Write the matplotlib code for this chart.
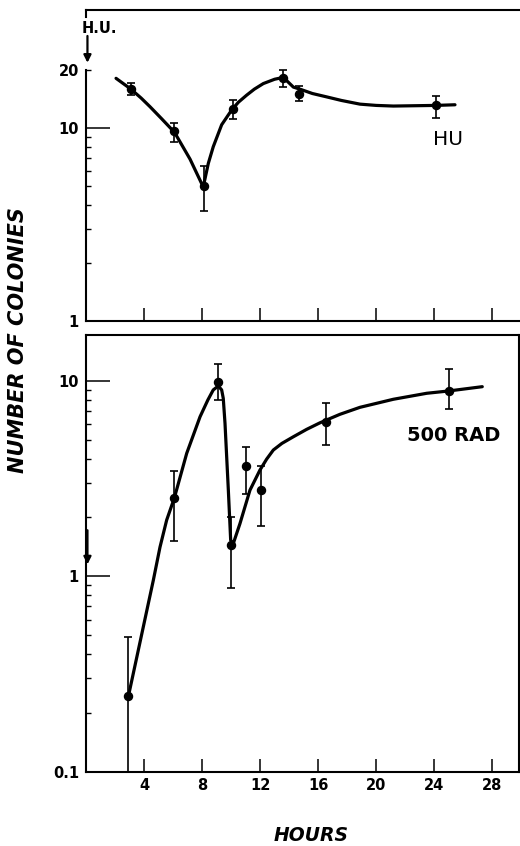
import matplotlib
matplotlib.use('Agg')
import matplotlib.pyplot as plt
from matplotlib.ticker import FixedLocator, FuncFormatter, NullFormatter

# ---------------- data ----------------
hu_hours = [3.1, 6.05, 8.1, 10.1, 13.55, 14.65, 24.1]
hu_vals = [15.9, 9.6, 5.0, 12.5, 18.1, 15.1, 13.2]
hu_low = [14.9, 8.5, 3.7, 11.1, 16.4, 13.8, 11.3]
hu_high = [17.2, 10.6, 6.35, 14.0, 20.0, 16.5, 14.7]

hu_curve_hours = [2.07, 3.1, 3.8, 4.41, 5.2, 6.1, 7.17, 8.08, 8.43, 8.77, 9.35,
                  10.04, 10.5, 11.07, 11.6, 12.22, 13.0, 13.6, 14.29, 14.75,
                  15.6, 16.59, 17.6, 18.88, 20.0, 21.18, 24.1, 25.43]
hu_curve_vals = [18.1, 15.9, 14.3, 12.9, 11.2, 9.5, 6.9, 4.95, 6.56, 8.0, 10.4,
                 12.4, 13.6, 14.8, 15.9, 17.0, 17.9, 18.3, 16.3, 15.9,
                 15.1, 14.5, 13.9, 13.3, 13.1, 13.0, 13.1, 13.2]

rad_hours = [2.92, 6.09, 9.1, 9.97, 11.03, 12.04, 16.54, 25.0]
rad_vals = [0.2425, 2.52, 9.92, 1.44, 3.66, 2.78, 6.19, 8.89]
rad_low = [0.1, 1.51, 7.98, 0.875, 2.63, 1.81, 4.7, 7.16]
rad_high = [0.49, 3.46, 12.2, 2.0, 4.6, 3.66, 7.69, 11.5]

rad_curve_hours = [2.92, 4.64, 5.10, 5.56, 6.09, 6.94, 7.86, 8.4, 8.77, 9.12,
                   9.35, 9.46, 9.58, 9.81, 9.97, 10.15, 10.61, 11.30, 11.99,
                   12.45, 12.91, 13.5, 14.29, 15.2, 16.13, 17.5, 18.88, 21.18,
                   23.48, 25.0, 27.31]
rad_curve_vals = [0.2425, 0.954, 1.41, 1.94, 2.52, 4.26, 6.56, 8.0, 9.0, 9.43,
                  9.0, 8.15, 6.07, 2.76, 1.53, 1.47, 1.86, 2.76, 3.5,
                  3.98, 4.43, 4.79, 5.18, 5.65, 6.11, 6.75, 7.33, 8.06,
                  8.65, 8.89, 9.35]

x_ticks = [4, 8, 12, 16, 20, 24, 28]
top_major = [1, 10]
top_minor = [2, 3, 4, 5, 6, 7, 8, 9, 20]
bot_major = [0.1, 1, 10]
bot_minor = [0.2, 0.3, 0.4, 0.5, 0.6, 0.7, 0.8, 0.9, 2, 3, 4, 5, 6, 7, 8, 9]

# ---------------- figure ----------------
plt.rcParams['font.family'] = ['DejaVu Sans']
fig = plt.figure(figsize=(5.2, 8.46), dpi=100)
W, H = 520.0, 846.0
ax1 = fig.add_axes([86 / W, 1 - 321 / H, (519 - 86) / W, (321 - 10) / H])
ax2 = fig.add_axes([86 / W, 1 - 771.5 / H, (519 - 86) / W, (771.5 - 335) / H])

xmax = (519 - 86) / 14.51
spine_lw = 1.5


def style(ax):
    ax.set_yscale('log')
    ax.set_xlim(0, xmax)
    for s in ax.spines.values():
        s.set_linewidth(spine_lw)
    ax.xaxis.set_major_locator(FixedLocator(x_ticks))
    ax.tick_params(axis='x', which='major', direction='in', length=9.2,
                   width=1.1, labelsize=10.5, pad=5)
    ax.tick_params(axis='y', which='major', direction='in', length=17.5,
                   width=1.1, labelsize=10.5, pad=5)
    ax.tick_params(axis='y', which='minor', direction='in', length=3.8,
                   width=1.0, labelsize=10.5, pad=5)
    ax.tick_params(top=False, right=False, which='both')


lfmt = FuncFormatter(lambda v, p: ('%g' % v))

# ---- top panel ----
style(ax1)
ax1.set_ylim(1, 40.9)
ax1.yaxis.set_major_locator(FixedLocator(top_major))
ax1.yaxis.set_minor_locator(FixedLocator(top_minor))
ax1.yaxis.set_major_formatter(lfmt)
ax1.yaxis.set_minor_formatter(FuncFormatter(lambda v, p: '20' if abs(v - 20) < 1e-6 else ''))
ax1.tick_params(axis='x', labelbottom=False)
ax1.spines['right'].set_visible(False)
ax1.spines['left'].set_bounds(1, 20)
ax1.plot([0, 0], [1, 1 - 7 / 311], color='k', lw=spine_lw,
         transform=ax1.transAxes, clip_on=False)

ax1.plot(hu_curve_hours, hu_curve_vals, color='k', lw=2.3,
         solid_capstyle='round', solid_joinstyle='round')
ax1.errorbar(hu_hours, hu_vals,
             yerr=[[v - lo for v, lo in zip(hu_vals, hu_low)],
                   [hi - v for v, hi in zip(hu_vals, hu_high)]],
             fmt='o', color='k', ms=5.8, capsize=2.6, elinewidth=1.2,
             capthick=1.2)
ax1.text(24.95, 8.67, 'HU', fontsize=14.5, ha='center', va='center')
ax1.text(0.93, 32.8, 'H.U.', fontsize=10.5, fontweight='bold',
         ha='center', va='center', clip_on=False)
ax1.annotate('', xy=(0.1, 21.8), xytext=(0.1, 30.0),
             arrowprops=dict(arrowstyle='-|>', color='k', lw=1.6,
                             mutation_scale=11, shrinkA=0, shrinkB=0),
             annotation_clip=False)
for lab in ax1.get_yticklabels(which='both'):
    lab.set_fontweight('bold')

# ---- bottom panel ----
style(ax2)
ax2.set_ylim(0.1, 17.2)
ax2.yaxis.set_major_locator(FixedLocator(bot_major))
ax2.yaxis.set_minor_locator(FixedLocator(bot_minor))
ax2.yaxis.set_major_formatter(lfmt)
ax2.yaxis.set_minor_formatter(NullFormatter())
ax2.xaxis.set_major_formatter(FuncFormatter(lambda v, p: '%d' % v))

ax2.plot(rad_curve_hours, rad_curve_vals, color='k', lw=2.3,
         solid_capstyle='round', solid_joinstyle='round')
ax2.errorbar(rad_hours, rad_vals,
             yerr=[[v - lo for v, lo in zip(rad_vals, rad_low)],
                   [hi - v for v, hi in zip(rad_vals, rad_high)]],
             fmt='o', color='k', ms=5.8, capsize=2.6, elinewidth=1.2,
             capthick=1.2)
ax2.text(25.33, 5.25, '500 RAD', fontsize=14, fontweight='bold',
         ha='center', va='center')
ax2.annotate('', xy=(0.1, 1.15), xytext=(0.1, 1.72),
             arrowprops=dict(arrowstyle='-|>', color='k', lw=1.6,
                             mutation_scale=11, shrinkA=0, shrinkB=0),
             annotation_clip=False)
for lab in ax2.get_xticklabels() + ax2.get_yticklabels():
    lab.set_fontweight('bold')

fig.text(18.5 / W, 1 - 340 / H, 'NUMBER OF COLONIES', rotation=90,
         fontsize=15, fontweight='bold', fontstyle='italic',
         ha='center', va='center')
fig.text(311 / W, 1 - 835 / H, 'HOURS', fontsize=13.5, fontweight='bold',
         fontstyle='italic', ha='center', va='center')

fig.savefig('out.png', dpi=100)
